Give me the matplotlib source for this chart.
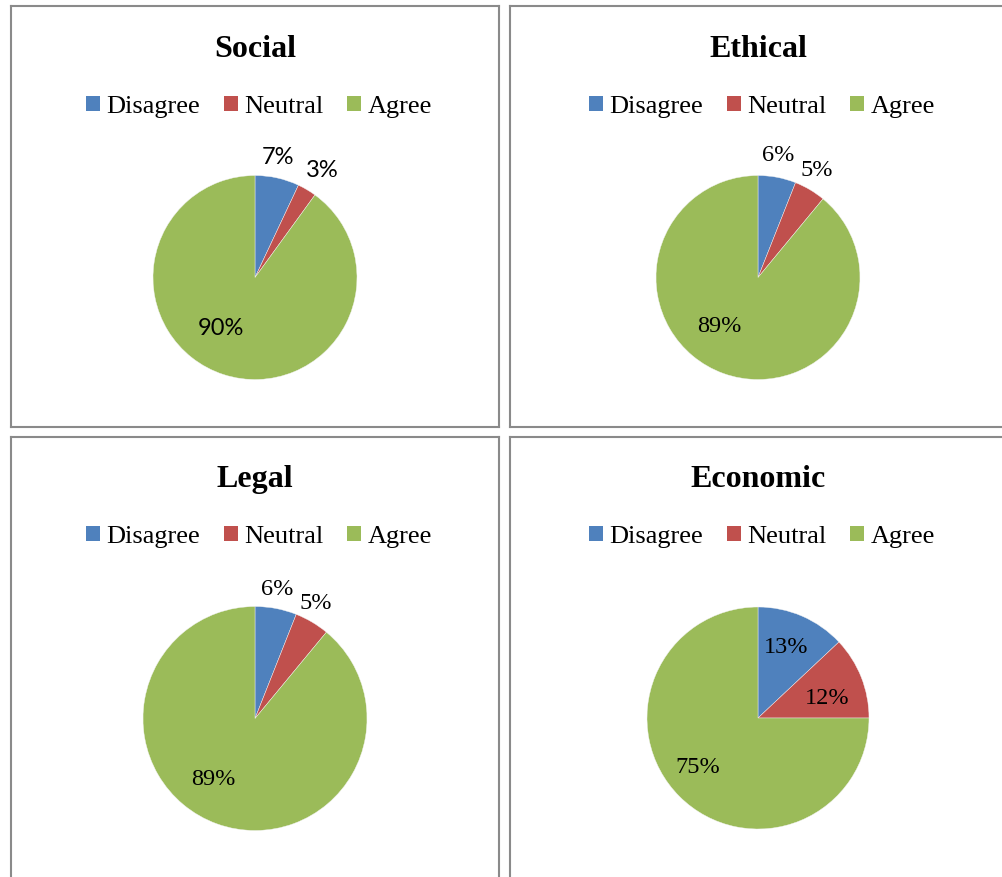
import matplotlib.pyplot as plt
import numpy as np
from matplotlib.patches import Patch

W, H = 1003, 877

categories = ['Disagree', 'Neutral', 'Agree']
titles = ['Social', 'Ethical', 'Legal', 'Economic']
social = [7, 3, 90]
ethical = [6, 5, 89]
legal = [6, 5, 89]
economic = [13, 12, 75]
colors = ['#4F81BD', '#C0504D', '#9BBB59']

SERIF = 'Liberation Serif'

# panel boxes in pixels: left, top, right, bottom
panels = [(11, 6.5, 499, 426.5), (510, 6.5, 1012, 426.5),
          (11, 436.5, 499, 900), (510, 436.5, 1012, 900)]
# pie centre and radius in pixels
pies = [(255, 277.5, 102), (758, 277.5, 102), (255, 718.5, 112), (758, 718, 111)]
# label placement: (degrees clockwise from top, distance in radii)
label_pos = [
    [(10.8, 1.20), (32.4, 1.24), (214, 0.60)],
    [(9.3, 1.21), (28.9, 1.20), (218.5, 0.61)],
    [(9.7, 1.17), (28.0, 1.16), (214.5, 0.66)],
    [(21.8, 0.68), (74.6, 0.65), (230.8, 0.70)],
]
label_fonts = [('Lato', 17), (SERIF, 17.5), (SERIF, 17.5), (SERIF, 17.5)]


def fig_rect(x0, y0, x1, y1):
    return [x0 / W, 1 - y1 / H, (x1 - x0) / W, (y1 - y0) / H]


fig = plt.figure(figsize=(W / 100, H / 100), dpi=100)
fig.patch.set_facecolor('white')

for i, values in enumerate([social, ethical, legal, economic]):
    x0, y0, x1, y1 = panels[i]
    frame = fig.add_axes(fig_rect(x0, y0, x1, y1))
    frame.set_xticks([])
    frame.set_yticks([])
    frame.patch.set_alpha(0)
    for sp in frame.spines.values():
        sp.set_color('#8a8a8a')
        sp.set_linewidth(1.5)

    cx, cy, r = pies[i]
    ax = fig.add_axes(fig_rect(cx - r, cy - r, cx + r, cy + r))
    ax.pie(values, colors=colors, startangle=90, counterclock=False, radius=1,
           wedgeprops=dict(edgecolor='#f4f4f4', linewidth=0.3))
    ax.set_xlim(-1, 1)
    ax.set_ylim(-1, 1)
    ax.set_aspect('equal')
    ax.axis('off')

    fam, size = label_fonts[i]
    for v, (ang, dist) in zip(values, label_pos[i]):
        t = np.deg2rad(ang)
        ax.text(dist * np.sin(t), dist * np.cos(t), f'{v}%', ha='center', va='center',
                fontsize=size, family=fam, color='black', clip_on=False)

    # title and legend, centred over the pie
    top = y0 - 6.5
    fig.text(cx / W, 1 - (top + 57) / H, titles[i], ha='center', va='baseline',
             fontsize=23, fontweight='bold', family=SERIF)
    handles = [Patch(facecolor=c, edgecolor='none') for c in colors]
    fig.legend(handles, categories, loc='center', ncol=3,
               bbox_to_anchor=((cx + 4) / W, 1 - (top + 107) / H),
               frameon=False, prop=dict(family=SERIF, size=19),
               handlelength=0.53, handleheight=0.53, handletextpad=0.25,
               columnspacing=0.9, borderpad=0, borderaxespad=0)

fig.savefig('out.png', dpi=100)
